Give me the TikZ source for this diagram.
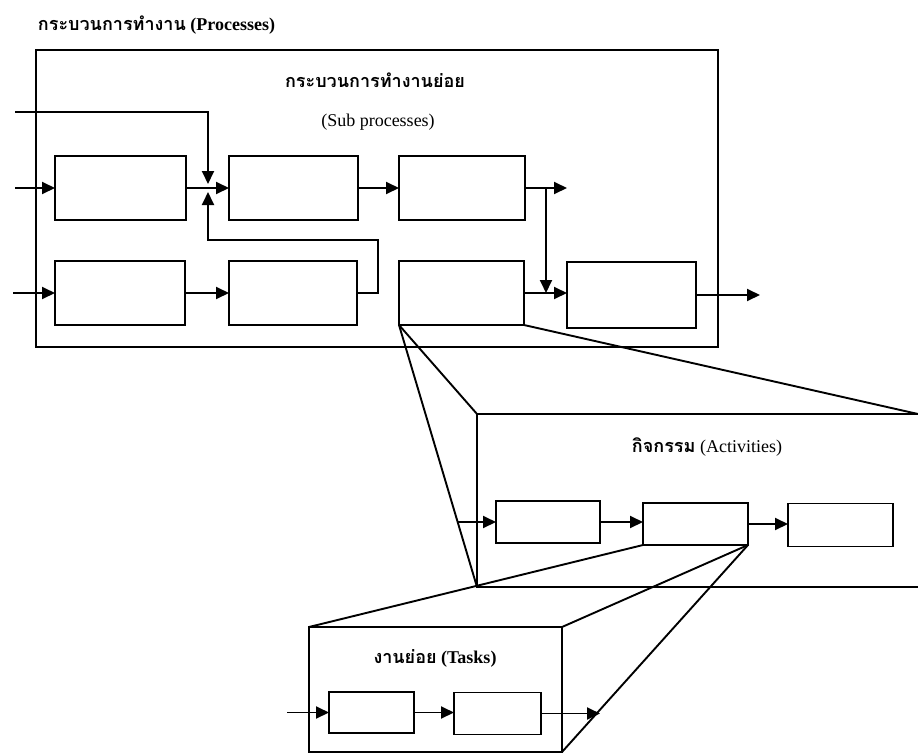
\documentclass[tikz,border=0pt]{standalone}
\usepackage{fontspec}
\setmainfont{Liberation Serif}
\newfontfamily\thaifont[Script=Thai]{Loma}
\usetikzlibrary{arrows.meta}

\begin{document}
\begin{tikzpicture}[x=1pt,y=-1pt,
  line width=1.9pt,
  blk/.style={draw, line width=1.9pt, inner sep=0pt, outer sep=0pt},
  flow/.style={-{Triangle[length=13pt,width=12pt]}},
  lbl/.style={inner sep=0pt, font=\fontsize{18}{20}\selectfont},
  lblb/.style={inner sep=0pt, font=\bfseries\fontsize{18}{20}\selectfont}
]
\path[use as bounding box, clip] (0,0) rectangle (918,755);
\fill[white] (0,0) rectangle (918,755);

% ---- processes level ----
\node[lblb, anchor=west] (title) at (37,25) {{\thaifont กระบวนการทำงาน} (Processes)};
\node[blk, minimum width=682pt, minimum height=297pt] (P) at (377,198.5) {};
\node[lblb] (subTh) at (375,80) {\thaifont กระบวนการทำงานย่อย};
\node[lbl] (subEn) at (378,122) {(Sub processes)};

% first row of sub-processes
\node[blk, minimum width=131pt, minimum height=64pt] (A1) at (120.5,188) {};
\node[blk, minimum width=129pt, minimum height=64pt] (A2) at (293.5,188) {};
\node[blk, minimum width=126pt, minimum height=64pt] (A3) at (462,188) {};
% second row of sub-processes
\node[blk, minimum width=130pt, minimum height=64pt] (B1) at (120,293) {};
\node[blk, minimum width=128pt, minimum height=64pt] (B2) at (293,293) {};
\node[blk, minimum width=125pt, minimum height=64pt] (B3) at (461.5,293) {};
\node[blk, minimum width=129pt, minimum height=66pt] (B4) at (631.5,295) {};

% free ends and junctions
\coordinate (feed) at (15,112);
\coordinate (inA) at (15,188);
\coordinate (inB) at (13,293);
\coordinate (J) at (208,188);
\coordinate (fb) at (378,240);
\coordinate (A3o) at (567,188);
\coordinate (K) at (546,188);
\coordinate (B4o) at (760,295);

\draw[flow] (inA) -- (A1.west);
\draw[flow] (inB) -- (B1.west);
\draw[flow] (A1.east) -- (A2.west);
\draw[flow] (feed) -| ([yshift=4pt]J);
\draw[flow] (B2.east) -| (fb) -| ([yshift=-4pt]J);
\draw[flow] (B1.east) -- (B2.west);
\draw[flow] (A2.east) -- (A3.west);
\draw[flow] (A3.east) -- (A3o);
\draw[flow] (K) -- (K |- B3.east);
\draw[flow] (B3.east) -- (B3.east -| B4.west);
\draw[flow] (B4.east) -- (B4o);

% ---- activities level ----
\node[blk, minimum width=448pt, minimum height=173pt] (Act) at (701,500.5) {};
\coordinate (ActTR) at (918,414);
\node[lbl] (actl) at (707,447) {{\thaifont\bfseries กิจกรรม} (Activities)};
\node[blk, minimum width=104pt, minimum height=42pt] (C1) at (548,522) {};
\node[blk, minimum width=105pt, minimum height=42pt] (C2) at (695.5,524) {};
\node[blk, minimum width=105pt, minimum height=43pt] (C3) at (840.5,525) {};
\coordinate (inC) at (457,522);
\draw[flow] (inC) -- (C1.west);
\draw[flow] (C1.east) -- (C1.east -| C2.west);
\draw[flow] (C2.east) -- (C2.east -| C3.west);

% ---- tasks level ----
\node[blk, minimum width=253pt, minimum height=125pt] (T) at (435.5,689.5) {};
\node[lblb] (taskl) at (435,658) {{\thaifont งานย่อย} (Tasks)};
\node[blk, minimum width=85pt, minimum height=41pt] (D1) at (371.5,712.5) {};
\node[blk, minimum width=87pt, minimum height=42pt] (D2) at (497.5,713.5) {};
\coordinate (inD) at (287,712.5);
\coordinate (outD) at (600,713.5);
\draw[flow] (inD) -- (D1.west);
\draw[flow] (D1.east) -- (D1.east -| D2.west);
\draw[flow] (D2.east) -- (outD);

% ---- zoom lines between levels ----
\draw (B3.south west) -- (Act.north west);
\draw (B3.south west) -- (Act.south west);
\draw (B3.south east) -- (ActTR);
\draw (C2.south west) -- (T.north west);
\draw (C2.south east) -- (T.north east);
\draw (C2.south east) -- (T.south east);
\end{tikzpicture}
\end{document}
